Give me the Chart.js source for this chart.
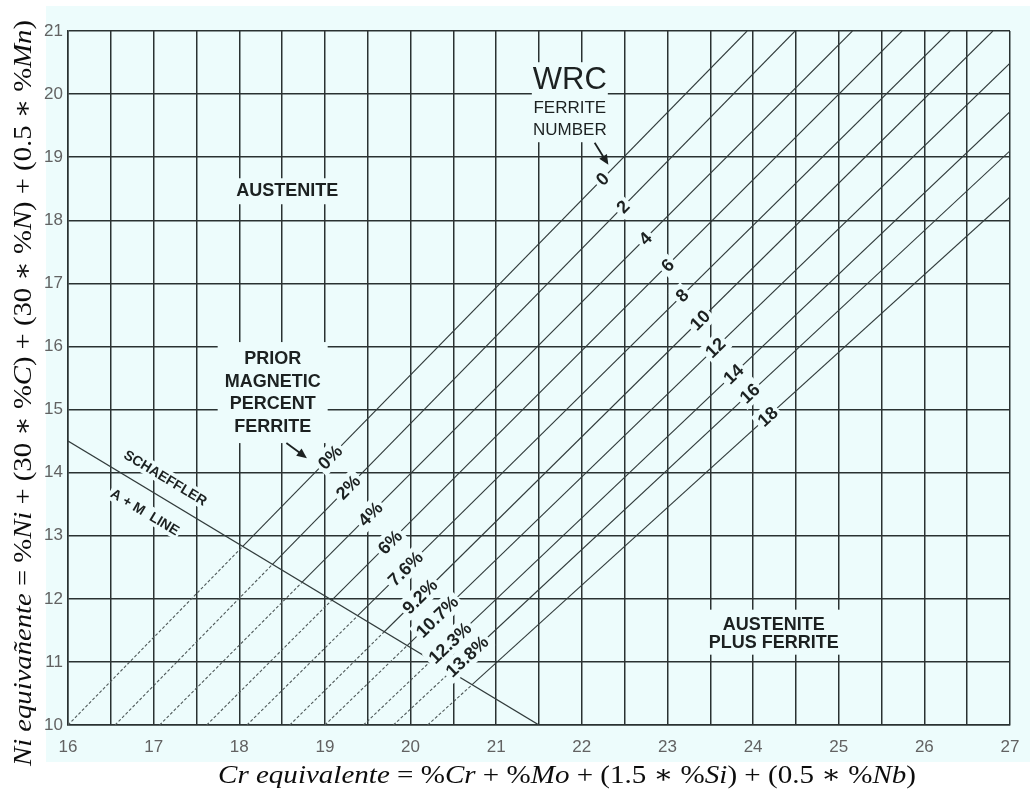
<!DOCTYPE html>
<html>
<head>
<meta charset="utf-8">
<script src="https://cdn.jsdelivr.net/npm/chart.js@4.4.1/dist/chart.umd.min.js"></script>
<style>
  html, body { margin: 0; padding: 0; background: #ffffff; }
  #wrap { width: 1032px; height: 792px; }
</style>
</head>
<body>
<div id="wrap"><canvas id="myChart" width="1032" height="792"></canvas></div>
<script>
// rangos de los ejes
var crRange = [16, 27];
var niRange = [10, 21];

// lineas WRC ferrite number (inicio en Ni = 10, fin en el borde superior o derecho)
var fnNumbers = ['0', '2', '4', '6', '8', '10', '12', '14', '16', '18'];
var fnStartCr = [16.0, 16.55, 17.07, 17.62, 18.09, 18.59, 19.0, 19.45, 19.8, 20.2];
var fnEndCr = [23.93, 24.49, 25.16, 25.74, 26.3, 26.8, 27, 27, 27, 27];
var fnEndNi = [21, 21, 21, 21, 21, 21, 20.49, 19.72, 19.1, 18.37];
var fnLabelCr = [22.24, 22.48, 22.74, 23.0, 23.17, 23.38, 23.56, 23.77, 23.96, 24.17];

// prior magnetic percent ferrite
var pctLabels = ['0%', '2%', '4%', '6%', '7.6%', '9.2%', '10.7%', '12.3%', '13.8%'];
var pctLabelCr = [19.06, 19.27, 19.53, 19.76, 19.94, 20.11, 20.31, 20.46, 20.66];

// linea A + M de Schaeffler
var schaefflerCr = [16, 21.5];
var schaefflerNi = [14.5, 10];

var bgColor = '#edfcfc';
var gridColor = '#2a3232';
var lineColor = '#313b3b';
var textColor = '#1c2121';

var xTitleParts = [['Cr equivalente', 1], [' = %', 0], ['Cr', 1], [' + %', 0], ['Mo', 1], [' + (1.5 \u2217 %', 0], ['Si', 1], [') + (0.5 \u2217 %', 0], ['Nb', 1], [')', 0]];
var yTitleParts = [['Ni equiva\u00f1ente', 1], [' = %', 0], ['Ni', 1], [' + (30 \u2217 %', 0], ['C', 1], [') + (30 \u2217 %', 0], ['N', 1], [') + (0.5 \u2217 %', 0], ['Mn', 1], [')', 0]];

function slopeOf(i) {
    return (fnEndNi[i] - niRange[0]) / (fnEndCr[i] - fnStartCr[i]);
}

// punto donde la linea FN corta la linea de Schaeffler (ahi empieza el trazo continuo)
function crossSchaeffler(i) {
    var m = slopeOf(i);
    var s = (schaefflerNi[1] - schaefflerNi[0]) / (schaefflerCr[1] - schaefflerCr[0]);
    var x = (schaefflerNi[0] - s * schaefflerCr[0] - niRange[0] + m * fnStartCr[i]) / (m - s);
    return { x: x, y: niRange[0] + m * (x - fnStartCr[i]) };
}

var datasets = [];
fnNumbers.forEach(function (fn, i) {
    var c = crossSchaeffler(i);
    datasets.push({
        label: 'FN ' + fn,
        data: [{ x: fnStartCr[i], y: niRange[0] }, c, { x: fnEndCr[i], y: fnEndNi[i] }],
        showLine: true,
        pointRadius: 0,
        borderColor: lineColor,
        borderWidth: 1.1,
        segment: {
            borderDash: function (ctx) { return ctx.p0DataIndex === 0 ? [3, 2] : undefined; },
            borderColor: function (ctx) { return ctx.p0DataIndex === 0 ? '#4f5959' : lineColor; }
        }
    });
});
datasets.push({
    label: 'Schaeffler',
    data: [{ x: schaefflerCr[0], y: schaefflerNi[0] }, { x: schaefflerCr[1], y: schaefflerNi[1] }],
    showLine: true,
    pointRadius: 0,
    borderColor: lineColor,
    borderWidth: 1.3
});

function rotLabel(ctx, text, px, py, angle, size, padX) {
    ctx.save();
    ctx.translate(px, py);
    ctx.rotate(angle);
    ctx.font = 'bold ' + size + 'px "Liberation Sans", Arial, sans-serif';
    var w = ctx.measureText(text).width;
    ctx.fillStyle = bgColor;
    ctx.fillRect(-w / 2 - padX, -size * 0.6, w + padX * 2, size * 1.2);
    ctx.fillStyle = textColor;
    ctx.textAlign = 'center';
    ctx.textBaseline = 'middle';
    ctx.fillText(text, 0, 1);
    ctx.restore();
}

// bloque de texto horizontal con caja del color de fondo
function blockLabel(ctx, cx, lines, box) {
    ctx.save();
    ctx.fillStyle = bgColor;
    ctx.fillRect(cx - box.w / 2, box.top, box.w, box.h);
    ctx.fillStyle = textColor;
    ctx.textAlign = 'center';
    ctx.textBaseline = 'middle';
    lines.forEach(function (l) {
        ctx.font = l.font;
        ctx.fillText(l.text, cx, l.y);
    });
    ctx.restore();
}

function arrow(ctx, x0, y0, x1, y1) {
    var a = Math.atan2(y1 - y0, x1 - x0);
    ctx.save();
    ctx.strokeStyle = textColor;
    ctx.fillStyle = textColor;
    ctx.lineWidth = 1.8;
    ctx.beginPath();
    ctx.moveTo(x0, y0);
    ctx.lineTo(x1 - 6 * Math.cos(a), y1 - 6 * Math.sin(a));
    ctx.stroke();
    ctx.beginPath();
    ctx.moveTo(x1, y1);
    ctx.lineTo(x1 - 10 * Math.cos(a) + 4.5 * Math.sin(a), y1 - 10 * Math.sin(a) - 4.5 * Math.cos(a));
    ctx.lineTo(x1 - 10 * Math.cos(a) - 4.5 * Math.sin(a), y1 - 10 * Math.sin(a) + 4.5 * Math.cos(a));
    ctx.closePath();
    ctx.fill();
    ctx.restore();
}

function richTitle(ctx, parts, cx, cy, rot, size, targetLen) {
    var up = size + 'px "Liberation Serif", "DejaVu Serif", serif';
    var it = 'italic ' + size + 'px "Liberation Serif", "DejaVu Serif", serif';
    var total = 0;
    parts.forEach(function (p) { ctx.font = p[1] ? it : up; total += ctx.measureText(p[0]).width; });
    ctx.save();
    ctx.translate(cx, cy);
    ctx.rotate(rot);
    ctx.scale(targetLen / total, 1);
    ctx.fillStyle = '#0d0d0d';
    ctx.textBaseline = 'middle';
    ctx.textAlign = 'left';
    var x = -total / 2;
    parts.forEach(function (p) {
        ctx.font = p[1] ? it : up;
        ctx.fillText(p[0], x, 0);
        x += ctx.measureText(p[0]).width;
    });
    ctx.restore();
}

var overlay = {
    id: 'overlay',
    beforeDraw: function (chart) {
        var ctx = chart.ctx, a = chart.chartArea;
        ctx.save();
        ctx.fillStyle = '#ffffff';
        ctx.fillRect(0, 0, chart.width, chart.height);
        ctx.fillStyle = bgColor;
        ctx.fillRect(a.left - 22, a.top - 25, a.right - a.left + 42, a.bottom - a.top + 62);
        ctx.restore();
    },
    afterDatasetsDraw: function (chart) {
        var ctx = chart.ctx;
        var xs = chart.scales.x, ys = chart.scales.y;
        var X = function (v) { return xs.getPixelForValue(v); };
        var Y = function (v) { return ys.getPixelForValue(v); };

        function onLine(i, cr, text) {
            var m = slopeOf(i);
            var ang = Math.atan2(Y(fnEndNi[i]) - Y(niRange[0]), X(fnEndCr[i]) - X(fnStartCr[i]));
            rotLabel(ctx, text, X(cr), Y(niRange[0] + m * (cr - fnStartCr[i])), ang, 18, 3);
        }
        fnNumbers.forEach(function (fn, i) { onLine(i, fnLabelCr[i], fn); });
        pctLabels.forEach(function (p, i) { onLine(i, pctLabelCr[i], p); });

        // textos de la linea de Schaeffler
        var sAng = Math.atan2(Y(schaefflerNi[1]) - Y(schaefflerNi[0]), X(schaefflerCr[1]) - X(schaefflerCr[0]));
        rotLabel(ctx, 'SCHAEFFLER', X(17.14), Y(13.92), sAng, 14, 2);
        rotLabel(ctx, 'A + M  LINE', X(16.9), Y(13.38), sAng, 14, 2);

        var bold18 = 'bold 18px "Liberation Sans", Arial, sans-serif';
        blockLabel(ctx, X(18.56), [{ text: 'AUSTENITE', font: bold18, y: Y(18.46) }],
            { top: Y(18.46) - 13, h: 26, w: 110 });

        blockLabel(ctx, X(21.86), [
            { text: 'WRC', font: '31px "Liberation Sans", Arial, sans-serif', y: Y(20.22) },
            { text: 'FERRITE', font: '17px "Liberation Sans", Arial, sans-serif', y: Y(19.78) },
            { text: 'NUMBER', font: '17px "Liberation Sans", Arial, sans-serif', y: Y(19.43) }
        ], { top: Y(20.22) - 18, h: 80, w: 76 });

        blockLabel(ctx, X(18.39), [
            { text: 'PRIOR', font: bold18, y: Y(15.80) },
            { text: 'MAGNETIC', font: bold18, y: Y(15.44) },
            { text: 'PERCENT', font: bold18, y: Y(15.09) },
            { text: 'FERRITE', font: bold18, y: Y(14.72) }
        ], { top: Y(15.80) - 17, h: 101, w: 110 });

        blockLabel(ctx, X(24.24), [
            { text: 'AUSTENITE', font: bold18, y: Y(11.59) },
            { text: 'PLUS FERRITE', font: bold18, y: Y(11.30) }
        ], { top: Y(11.59) - 15, h: 45, w: 138 });

        arrow(ctx, X(22.15), Y(19.23), X(22.31), Y(18.88));
        arrow(ctx, X(18.55), Y(14.47), X(18.79), Y(14.23));
    },
    afterDraw: function (chart) {
        var ctx = chart.ctx;
        richTitle(ctx, xTitleParts, 567, 776, 0, 26, 698);
        richTitle(ctx, yTitleParts, 24, 393, -Math.PI / 2, 26, 746);
    }
};

var tickFont = { family: '"Liberation Sans", Arial, sans-serif', size: 17 };

new Chart(document.getElementById('myChart'), {
    type: 'scatter',
    data: { datasets: datasets },
    options: {
        responsive: false,
        animation: false,
        layout: { padding: { top: 31, right: 22, left: 0, bottom: 0 } },
        plugins: { legend: { display: false }, tooltip: { enabled: false } },
        scales: {
            x: {
                type: 'linear',
                min: crRange[0],
                max: crRange[1],
                afterFit: function (s) { s.height = 67; },
                ticks: {
                    stepSize: 0.5,
                    autoSkip: false,
                    maxRotation: 0,
                    padding: 12,
                    color: '#626262',
                    font: tickFont,
                    callback: function (v) { return Number.isInteger(v) ? v : ''; }
                },
                grid: { color: gridColor, lineWidth: 1.5, drawTicks: false },
                border: { color: gridColor, width: 1.5 }
            },
            y: {
                type: 'linear',
                min: niRange[0],
                max: niRange[1],
                afterFit: function (s) { s.width = 68; },
                ticks: { stepSize: 1, padding: 5, color: '#626262', font: tickFont },
                grid: { color: gridColor, lineWidth: 1.5, drawTicks: false },
                border: { color: gridColor, width: 1.5 }
            }
        }
    },
    plugins: [overlay]
});
</script>
</body>
</html>
